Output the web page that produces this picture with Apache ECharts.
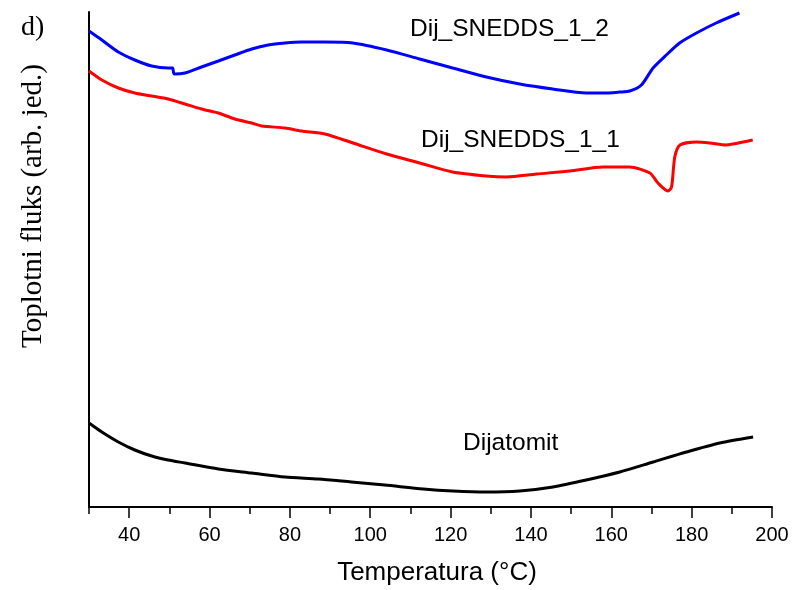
<!DOCTYPE html>
<html>
<head>
<meta charset="utf-8">
<script src="https://cdn.jsdelivr.net/npm/echarts@6/dist/echarts.min.js"></script>
<style>html,body{margin:0;padding:0;background:#fff;}#c{width:793px;height:590px;}</style>
</head>
<body>
<div id="c"></div>
<script>
// Temperature (°C) and heat flux (arbitrary units)
const snedds12 = [[30.0,476],[33.2,467],[37.3,455],[41.4,447],[45.6,441],[49.7,439],[50.8,439],[51.2,433],[53.9,434],[58.0,440],[62.2,446],[66.3,452],[70.5,458],[74.6,462],[78.8,464],[82.9,465],[88.7,465],[95.7,464],[104.1,457],[112.3,448],[120.5,439],[128.9,430],[137.2,423],[145.4,418],[153.8,414],[157.9,414],[162.1,415],[164.6,416],[167.5,422],[170.4,439],[173.7,452],[177.0,464],[181.2,474],[186.1,484],[191.9,494]];
const snedds11 = [[30.0,436],[33.2,427],[37.3,419],[41.4,414],[45.6,411],[49.7,408],[53.9,403],[58.0,398],[62.2,394],[66.3,388],[70.5,384],[73.0,381],[78.8,379],[82.9,376],[88.7,373],[95.7,364],[104.1,353],[112.3,344],[120.5,335],[128.9,331],[133.9,330],[141.4,333],[149.7,336],[157.9,340],[164.6,340],[169.6,334],[171.6,324],[174.1,316],[175.0,320],[175.8,350],[177.1,362],[181.2,365],[184.5,364],[188.6,362],[190.3,363],[195.2,367]];
const dijatomit = [[30.0,84],[33.2,75],[37.3,65],[41.4,57],[45.6,51],[49.7,47],[53.9,44],[62.2,38],[70.5,34],[78.8,30],[87.1,28],[95.3,25],[103.6,22],[113.2,18],[120.6,16],[128.9,15],[137.2,16],[145.5,20],[153.8,27],[162.1,35],[170.4,45],[178.7,55],[187.0,64],[195.3,70]];
const xTickLabels = [40,60,80,100,120,140,160,180,200];
const seriesNames = ['Dij_SNEDDS_1_2','Dij_SNEDDS_1_1','Dijatomit'];

const sans = "'Liberation Sans', Arial, sans-serif";
const serif = "'Liberation Serif', 'Times New Roman', serif";

const chart = echarts.init(document.getElementById('c'));
function line(name, data, color){
  return {name, type:'line', data, showSymbol:false, smooth:0.25,
    lineStyle:{color, width:3}, itemStyle:{color}};
}
chart.setOption({
  animation:false,
  grid:{left:89, right:21, top:12, bottom:83},
  xAxis:[{type:'value', min:30, max:200, position:'bottom', offset:0,
    axisLine:{lineStyle:{color:'#000', width:2}},
    axisTick:{customValues:xTickLabels, length:11, lineStyle:{color:'#000', width:1.5}},
    splitLine:{show:false},
    axisLabel:{customValues:xTickLabels, color:'#000', fontSize:20, fontFamily:sans, margin:18}
  },{type:'value', min:30, max:200, interval:10, position:'bottom', offset:0,
    axisLine:{show:false},
    axisTick:{show:true, length:7, lineStyle:{color:'#000', width:1.5}},
    splitLine:{show:false}, axisLabel:{show:false}
  }],
  yAxis:{type:'value', min:0, max:495,
    axisLine:{show:true, lineStyle:{color:'#000', width:2}},
    axisTick:{show:false}, axisLabel:{show:false}, splitLine:{show:false}
  },
  series:[
    line(seriesNames[0], snedds12, '#0000ff'),
    line(seriesNames[1], snedds11, '#ff0000'),
    line(seriesNames[2], dijatomit, '#000000')
  ],
  graphic:[
    {type:'text', left:410, top:17, style:{text:seriesNames[0], fontSize:24.5, fontFamily:sans, fill:'#000'}},
    {type:'text', left:421, top:128, style:{text:seriesNames[1], fontSize:24.5, fontFamily:sans, fill:'#000'}},
    {type:'text', left:463, top:431, style:{text:seriesNames[2], fontSize:24.5, fontFamily:sans, fill:'#000'}},
    {type:'text', x:437, y:573, style:{text:'Temperatura (°C)', fontSize:26, fontFamily:sans, fill:'#000', textAlign:'center', textVerticalAlign:'middle'}},
    {type:'text', left:21, top:14, style:{text:'d)', fontSize:28, fontFamily:serif, fill:'#000'}},
    {type:'text', x:33, y:206, rotation:Math.PI/2,
      style:{text:'Toplotni fluks (arb. jed.)', fontSize:29, fontFamily:serif, fill:'#000', textAlign:'center', textVerticalAlign:'middle'}}
  ]
});
</script>
</body>
</html>
